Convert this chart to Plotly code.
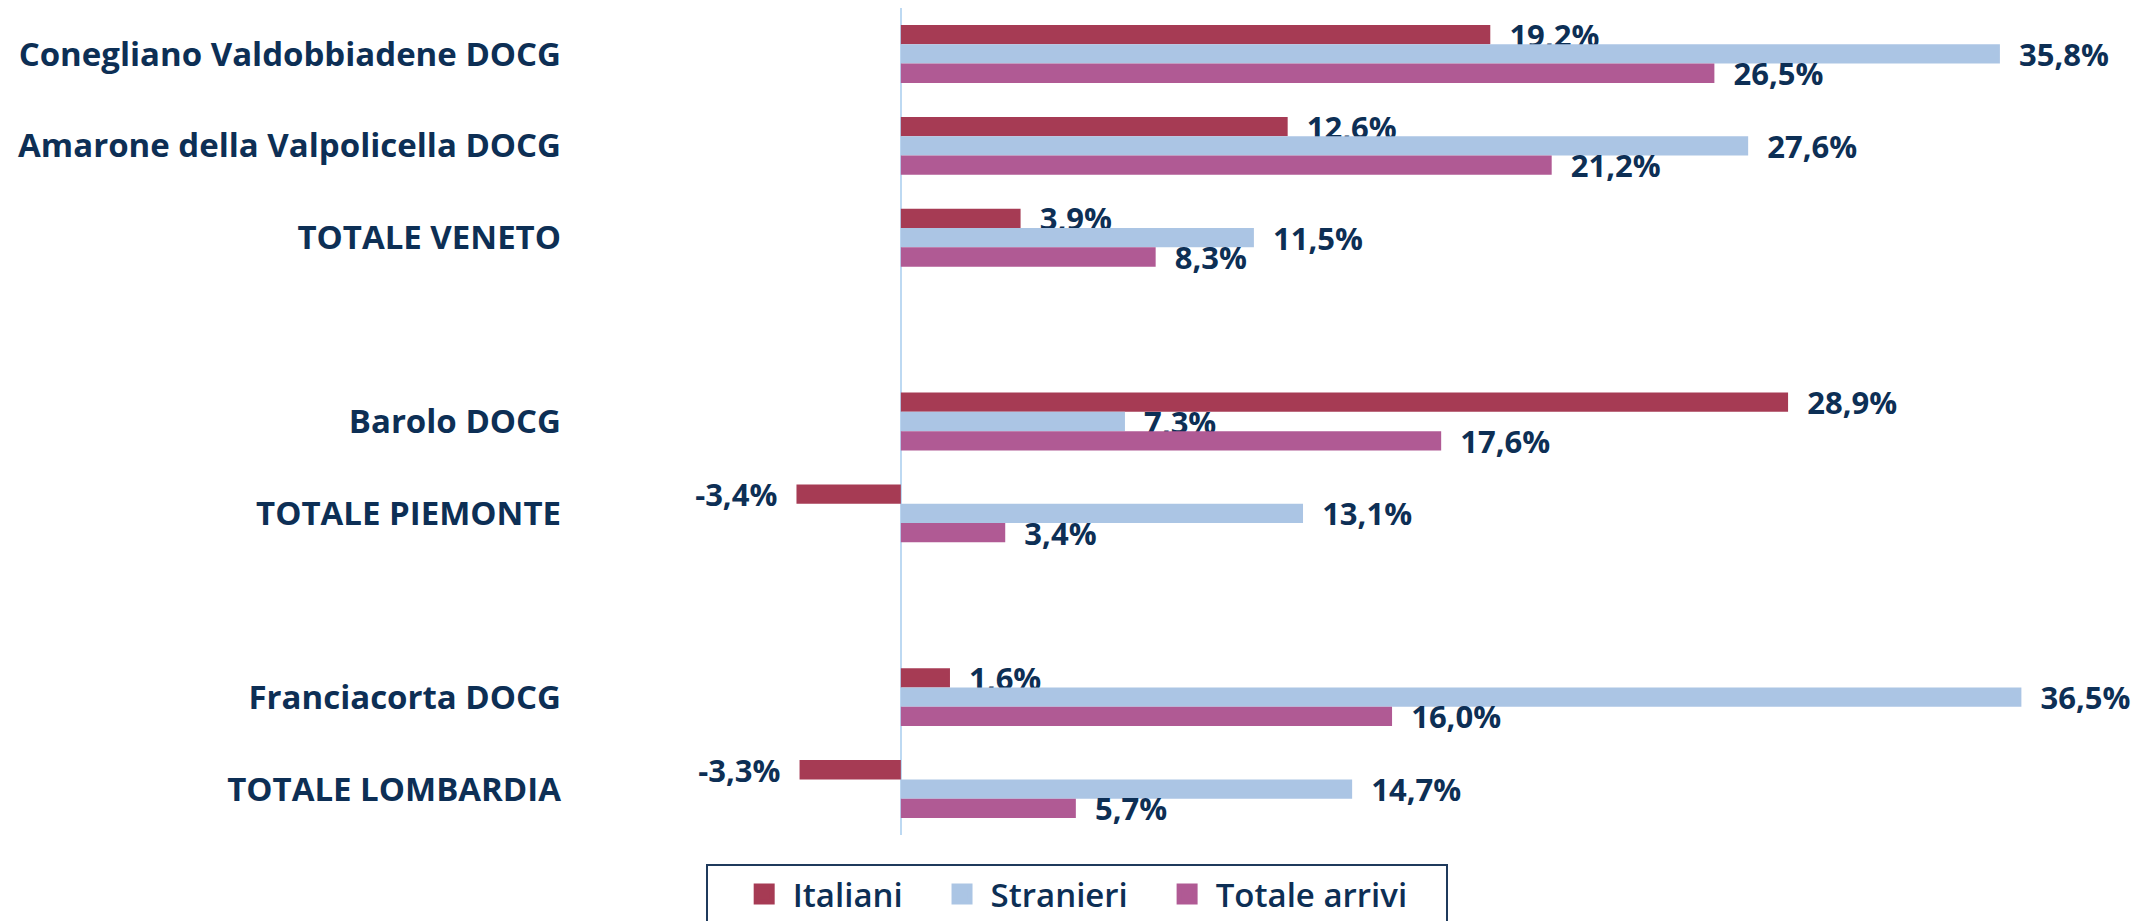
import plotly.graph_objects as go

# ---- data ----
categories = [
    "Conegliano Valdobbiadene DOCG",
    "Amarone della Valpolicella DOCG",
    "TOTALE VENETO",
    " ",
    "Barolo DOCG",
    "TOTALE PIEMONTE",
    "  ",
    "Franciacorta DOCG",
    "TOTALE LOMBARDIA",
]
italiani = [19.2, 12.6, 3.9, None, 28.9, -3.4, None, 1.6, -3.3]
stranieri = [35.8, 27.6, 11.5, None, 7.3, 13.1, None, 36.5, 14.7]
totale = [26.5, 21.2, 8.3, None, 17.6, 3.4, None, 16.0, 5.7]

series_names = ["Italiani", "Stranieri", "Totale arrivi"]
series_values = [italiani, stranieri, totale]
series_colors = ["#A63B54", "#ABC5E4", "#B05A94"]

NAVY = "#0D2F55"
FONT = "Open Sans"
NB = "\u00a0"


def fmt(v):
    if v is None:
        return ""
    s = f"{v:.1f}".replace(".", ",") + "%"
    return NB * 2 + s if v >= 0 else s + NB * 2


fig = go.Figure()
for name, vals, col in zip(series_names, series_values, series_colors):
    fig.add_trace(go.Bar(
        name=name,
        y=categories,
        x=vals,
        orientation="h",
        marker=dict(color=col, line=dict(width=0)),
        text=[fmt(v) for v in vals],
        textposition="outside",
        textfont=dict(family=FONT, size=31, color=NAVY, weight="bold"),
        constraintext="none",
        cliponaxis=False,
        hoverinfo="skip",
        showlegend=False,
    ))

# legend entries (square swatches, larger than the default bar swatch)
for name, col in zip(series_names, series_colors):
    fig.add_trace(go.Scatter(
        name=NB + name + NB * 4,
        x=[None],
        y=[None],
        mode="markers",
        marker=dict(symbol="square", size=16, color=col,
                    line=dict(color=col, width=5)),
        hoverinfo="skip",
        showlegend=True,
    ))

fig.update_layout(
    width=2152,
    height=921,
    barmode="group",
    bargap=0.37,
    bargroupgap=0,
    plot_bgcolor="white",
    paper_bgcolor="white",
    margin=dict(l=557, r=68, t=0, b=94, autoexpand=False),
    font=dict(family=FONT, color=NAVY),
    legend=dict(
        orientation="h",
        x=0.3356,
        xanchor="center",
        y=-0.035,
        yanchor="top",
        bordercolor="#1F3A5C",
        borderwidth=2,
        font=dict(family=FONT, size=33, color=NAVY, weight=600),
        title=dict(text=NB * 3, side="left",
                   font=dict(family=FONT, size=33, color=NAVY)),
        traceorder="normal",
        itemsizing="trace",
    ),
    xaxis=dict(
        range=[-10.94, 38.8],
        showgrid=False,
        showticklabels=False,
        zeroline=True,
        zerolinecolor="#BDD9F2",
        zerolinewidth=2,
        showline=False,
        ticks="",
        fixedrange=True,
    ),
    yaxis=dict(
        type="category",
        categoryorder="array",
        categoryarray=categories,
        range=[8.5, -0.5],
        showgrid=False,
        showline=False,
        ticks="",
        tickfont=dict(family=FONT, size=33, color=NAVY, weight="bold"),
        ticklabelstandoff=3,
        automargin=False,
        fixedrange=True,
    ),
)

fig.write_html("out.html")
